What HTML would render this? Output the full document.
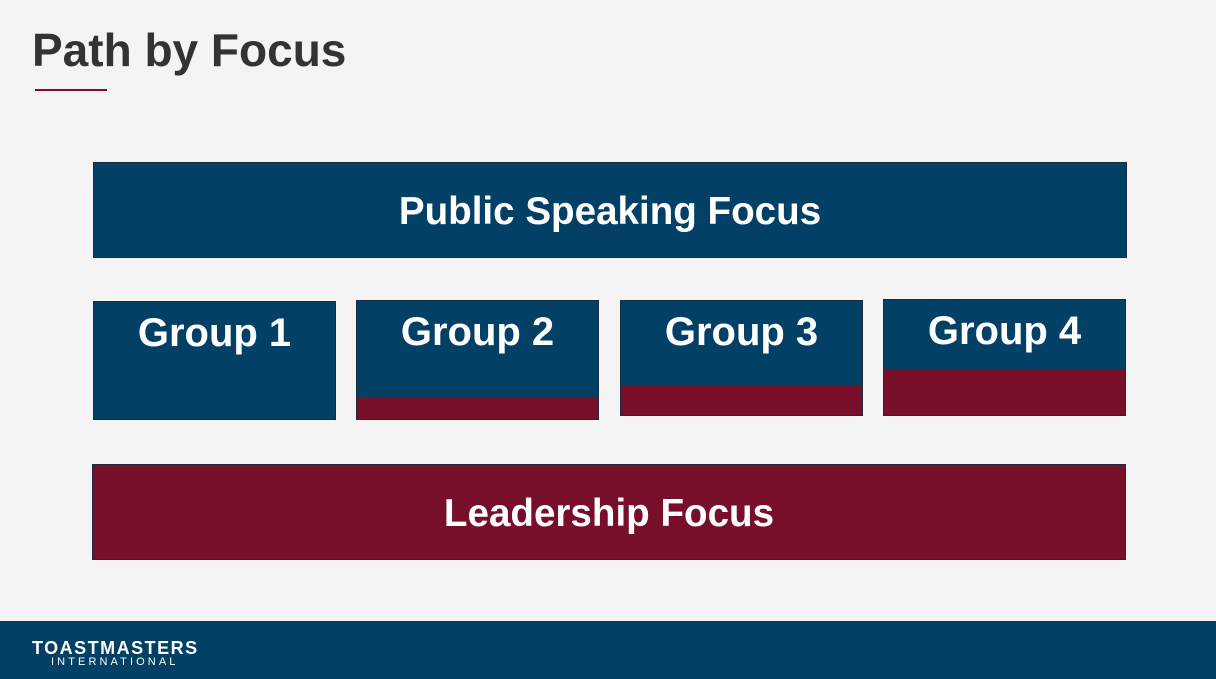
<!DOCTYPE html>
<html><head><meta charset="utf-8"><style>
body{margin:0;width:1216px;height:679px;background:#f4f4f4;position:relative;overflow:hidden;font-family:"Liberation Sans",Arial,sans-serif}
.abs{position:absolute;box-sizing:border-box}
.box{background:#024066;border:1px solid #1e2c3e;color:#fff;font-weight:bold;text-align:center}
.red{background:#770e2a}
</style></head><body>
<div class="abs" style="left:32px;top:24px;font-size:46px;font-weight:bold;color:#333;line-height:52px">Path by Focus</div>
<div class="abs" style="left:35px;top:89px;width:72px;height:2px;background:#7a1025"></div>
<div class="abs box" style="left:93px;top:162px;width:1034px;height:96px;font-size:38.6px;line-height:98px">Public Speaking Focus</div>
<div id="groups"></div>
<div class="abs box red" style="left:92px;top:464px;width:1034px;height:96px;font-size:38.6px;line-height:98px">Leadership Focus</div>
<div class="abs" style="left:0;top:621px;width:1216px;height:58px;background:#024066"></div>
<div class="abs" style="left:32px;top:639px;color:#fff;font-weight:bold;font-size:18px;line-height:18px;letter-spacing:1.5px">TOASTMASTERS</div>
<div class="abs" style="left:51px;top:656px;color:#fff;font-size:11px;line-height:12px;letter-spacing:3.1px">INTERNATIONAL</div>
<script>
const groupNames=["Group 1","Group 2","Group 3","Group 4"];
const groupLefts=[93,356,620,883];
const groupTops=[301,300,300,299];
const groupBottoms=[420,420,416,416];
const redHeights=[0,21,29,45];
const g=document.getElementById('groups');
groupNames.forEach((n,i)=>{
 const d=document.createElement('div');
 d.className='abs box';
 
 
 d.style.cssText=`left:${groupLefts[i]}px;top:${groupTops[i]}px;width:243px;height:${groupBottoms[i]-groupTops[i]}px;font-size:40px;line-height:62px;overflow:hidden`;
 d.textContent=n;
 if(redHeights[i]>0){
  const r=document.createElement('div');
  r.className='abs red';
  
  
  r.style.cssText=`left:0;bottom:0;width:100%;height:${redHeights[i]}px`;
  d.appendChild(r);
 }
 g.appendChild(d);
});
</script>
</body></html>
